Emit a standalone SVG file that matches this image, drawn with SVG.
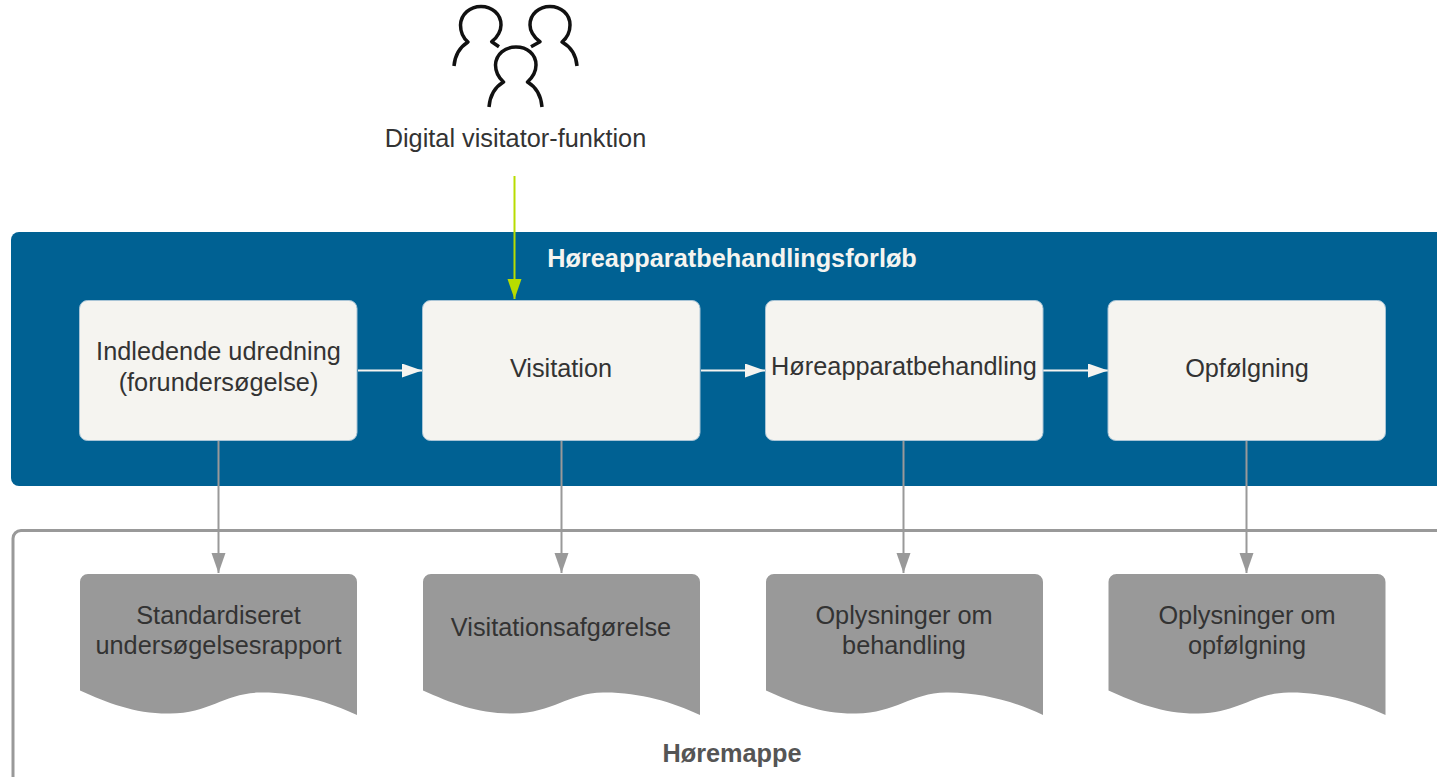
<svg xmlns="http://www.w3.org/2000/svg" width="1437" height="777" viewBox="0 0 1437 777">
<style>
text{font-family:"Liberation Sans",Arial,sans-serif;font-size:25.300px;fill:#333;text-anchor:middle}
.b{font-weight:700}
.box{fill:#f5f4f0;stroke:#a8c4d6;stroke-width:1}
.doc{fill:#999}
.p{fill:none;stroke:#111;stroke-width:3.500;stroke-linejoin:round}
.w{fill:none;stroke:#f5f4f0;stroke-width:2}
.g{fill:none;stroke:#999;stroke-width:2}
</style>
<defs>
<marker id="aw" markerUnits="userSpaceOnUse" markerWidth="22" markerHeight="16" refX="20" refY="7" orient="auto"><path d="M0 0L20 7L0 14Z" fill="#f5f4f0"/></marker>
<marker id="ag" markerUnits="userSpaceOnUse" markerWidth="22" markerHeight="16" refX="20" refY="7" orient="auto"><path d="M0 0L20 7L0 14Z" fill="#999"/></marker>
<marker id="al" markerUnits="userSpaceOnUse" markerWidth="22" markerHeight="16" refX="20" refY="7" orient="auto"><path d="M0 0L20 7L0 14Z" fill="#b8dc00"/></marker>
<path id="d" class="doc" d="M8 0H269a8 8 0 0 1 8 8V141C250 128 215 118 180 118.500C145 119 130 139 90 139.500C55 140 28 129 0 116.500V8A8 8 0 0 1 8 0Z"/>
</defs>
<g id="horemappe"><path d="M1437 530.500H21a8 8 0 0 0-8 8V777" fill="none" stroke="#999" stroke-width="3"/><text class="b" x="732" y="762" style="fill:#555">Høremappe</text></g>
<g id="forloeb"><path d="M1437 232H19a8 8 0 0 0-8 8V478a8 8 0 0 0 8 8H1437Z" fill="#006193"/><text class="b" x="732" y="267" style="fill:#f5f4f0">Høreapparatbehandlingsforløb</text></g>
<g id="visitator">
<path class="p" d="M454 66C455 54 460 47 468 42C462 37 460.500 30 460.500 25C461 14 470 6.500 481 6.500C492 6.500 501 14 501 25C501 30 498 37 491.700 41.700L499 46.700"/>
<path class="p" d="M577 66C576 54 571 47 562 42C568 37 570 30 570 25C570 14 561 6.500 550 6.500C539 6.500 530 14 530 25C530 30 533 37 540 41.700L531 46.700"/>
<path class="p" d="M489 107C490 95 495 87 503.500 82C498 77 495.500 70 495.500 65C496 54 505 47 516 47C527 47 536 54 536 65C536 70 533 77 527.500 82C536 87 541 95 542 107"/>
<text x="515.500" y="147">Digital visitator-funktion</text>
</g>
<g id="connectors">
<path d="M514.500 176V299" fill="none" stroke="#b8dc00" stroke-width="2" marker-end="url(#al)"/>
<path class="w" d="M358 370.500H422" marker-end="url(#aw)"/>
<path class="w" d="M701 370.500H765" marker-end="url(#aw)"/>
<path class="w" d="M1043 370.500H1108" marker-end="url(#aw)"/>
<path class="g" d="M218.500 440V573" marker-end="url(#ag)"/>
<path class="g" d="M561.500 440V573" marker-end="url(#ag)"/>
<path class="g" d="M903.500 440V573" marker-end="url(#ag)"/>
<path class="g" d="M1246.500 440V573" marker-end="url(#ag)"/>
</g>
<g id="n1"><rect class="box" x="79.500" y="300.500" width="277.500" height="140" rx="8"/><text x="218.500" y="360">Indledende udredning</text><text x="218.500" y="391">(forundersøgelse)</text></g>
<g id="n2"><rect class="box" x="422.500" y="300.500" width="277.500" height="140" rx="8"/><text x="561" y="377">Visitation</text></g>
<g id="n3"><rect class="box" x="765.500" y="300.500" width="277.500" height="140" rx="8"/><text x="904" y="375">Høreapparatbehandling</text></g>
<g id="n4"><rect class="box" x="1108" y="300.500" width="277.500" height="140" rx="8"/><text x="1247" y="377">Opfølgning</text></g>
<g id="d1"><use href="#d" x="80" y="574"/><text x="218.500" y="624">Standardiseret</text><text x="218.500" y="654">undersøgelsesrapport</text></g>
<g id="d2"><use href="#d" x="423" y="574"/><text x="561" y="636">Visitationsafgørelse</text></g>
<g id="d3"><use href="#d" x="766" y="574"/><text x="904" y="624">Oplysninger om</text><text x="904" y="654">behandling</text></g>
<g id="d4"><use href="#d" x="1108.500" y="574"/><text x="1247" y="624">Oplysninger om</text><text x="1247" y="654">opfølgning</text></g>
</svg>
